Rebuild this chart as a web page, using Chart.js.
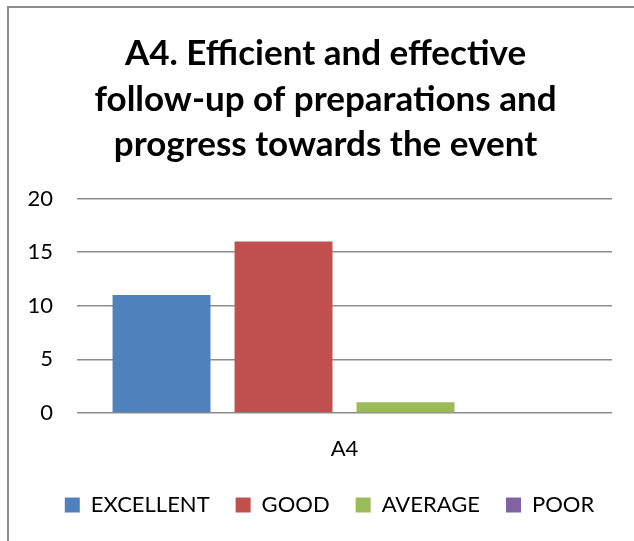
<!DOCTYPE html>
<html>
<head>
<meta charset="utf-8">
<script src="https://cdn.jsdelivr.net/npm/chart.js@4"></script>
<style>
  html, body { margin: 0; padding: 0; background: #fff; overflow: hidden; }
  .frame {
    position: absolute; left: 7px; top: 6px; width: 700px; height: 600px;
    border-left: 2px solid #8c8c8c; border-top: 2px solid #8c8c8c;
  }
  .my-chart { position: absolute; left: 9px; top: 9px; }
</style>
</head>
<body>
<div class="frame"></div>
<canvas class="my-chart" width="634" height="532"></canvas>
<script>
const titleLines = [
  "A4. Efficient and effective",
  "follow-up of preparations and",
  "progress towards the event",
];
const categories = ["A4"];
const seriesNames = ["EXCELLENT", "GOOD", "AVERAGE", "POOR"];
const seriesValues = [[11], [16], [1], [0]];
const seriesColors = ["#4F81BD", "#C0504D", "#9BBB59", "#8064A2"];
const yTicks = [0, 5, 10, 15, 20];

const myChart = document.querySelector(".my-chart");
const font = "Lato, 'Open Sans', sans-serif";

// nudge title and legend a little to the right, like the original
const shiftBoxes = {
  id: "shiftBoxes",
  afterLayout(chart) {
    [[chart.titleBlock, 6], [chart.legend, 10]].forEach(([box, dx]) => {
      if (!box) return;
      box.left += dx;
      box.right += dx;
    });
  },
};

new Chart(myChart, {
  type: "bar",
  data: {
    labels: categories,
    datasets: seriesNames.map((name, i) => ({
      label: name,
      data: seriesValues[i],
      backgroundColor: seriesColors[i],
      borderWidth: 0,
      categoryPercentage: 0.912,
      barPercentage: 0.803,
    })),
  },
  options: {
    responsive: false,
    animation: false,
    layout: { padding: { left: 18, right: 31, bottom: 15, top: 0 } },
    scales: {
      x: {
        grid: { display: false, drawTicks: false },
        border: { display: false },
        ticks: { color: "#000", padding: 23, font: { family: font, size: 22 } },
        afterFit: (scale) => { scale.height = 55; },
      },
      y: {
        min: 0,
        max: 20,
        afterBuildTicks: (axis) => {
          axis.ticks = yTicks.map((v) => ({ value: v }));
        },
        grid: { color: "#8c8c8c", lineWidth: 1.5, drawTicks: false },
        border: { display: false },
        ticks: { color: "#000", padding: 24, font: { family: font, size: 22 } },
        afterFit: (scale) => { scale.width = 50; },
      },
    },
    plugins: {
      title: {
        display: true,
        text: titleLines,
        color: "#000",
        font: { family: font, size: 35, weight: "bold", lineHeight: 1.3 },
        padding: { top: 22, bottom: 31 },
      },
      legend: {
        position: "bottom",
        labels: {
          color: "#000",
          boxWidth: 15,
          boxHeight: 15,
          padding: 26,
          font: { family: font, size: 22 },
        },
      },
      tooltip: { enabled: false },
    },
  },
  plugins: [shiftBoxes],
});
</script>
</body>
</html>
